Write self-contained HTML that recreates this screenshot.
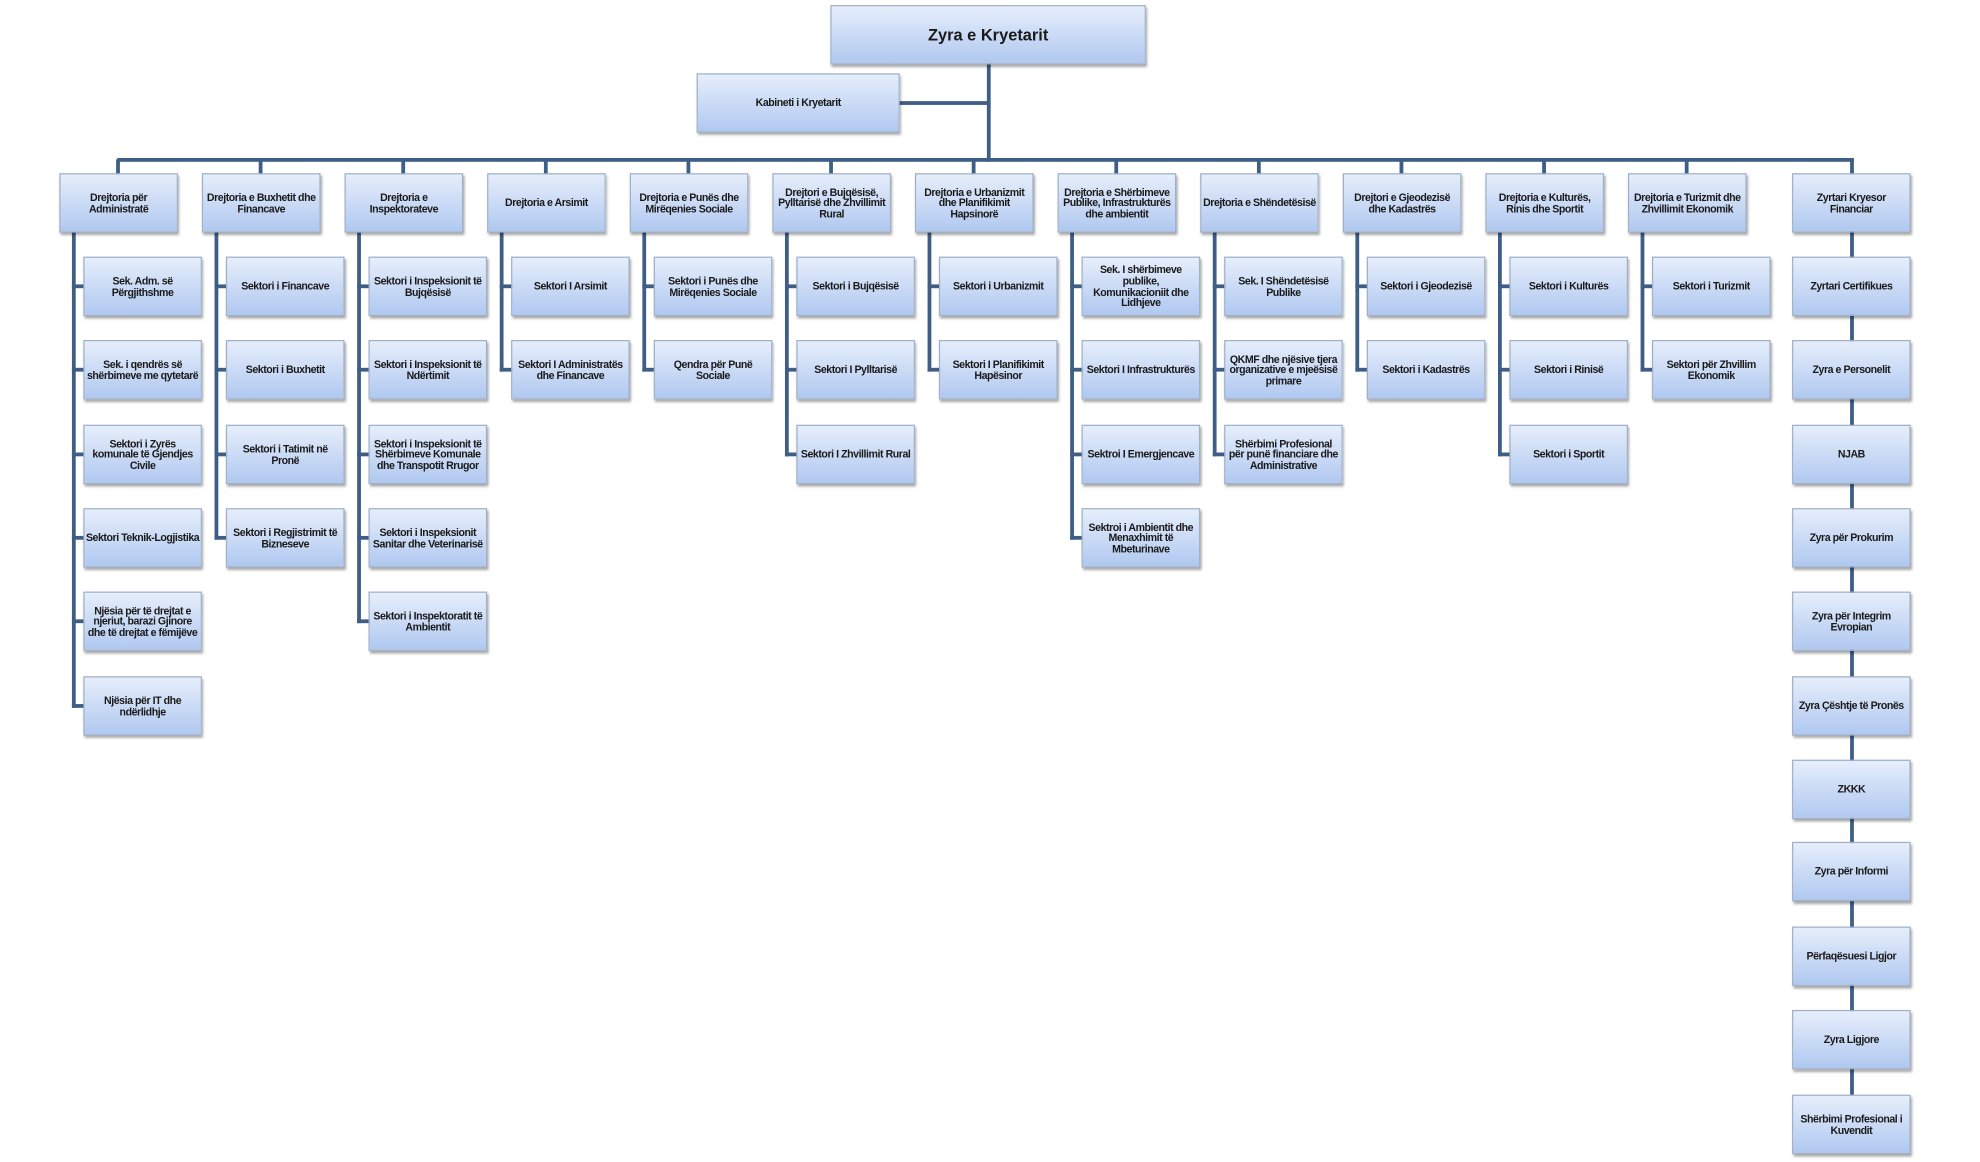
<!DOCTYPE html>
<html><head><meta charset="utf-8"><style>
html,body{margin:0;padding:0;background:#fff;width:1980px;height:1162px;overflow:hidden}
#c{position:absolute;left:0;top:0;width:1564px;height:918px;transform:scale(1.262,1.264);transform-origin:0 0}
.b{position:absolute;width:94px;height:47px;display:flex;align-items:center;justify-content:center;text-align:center;box-sizing:border-box;padding:0 1px;font-family:"Liberation Sans Narrow","Liberation Sans",sans-serif;font-weight:bold;font-size:8.4px;letter-spacing:-0.35px;line-height:8.6px;color:#1a1a1a;background:linear-gradient(#e6eefb,#b0c8f0);border:1px solid #9fb0ca;box-shadow:1px 2px 2px rgba(0,0,0,.35)}
.l{position:absolute;background:#3e5e86}
</style></head><body><div id="c">
<div class="l" style="left:782px;top:50px;width:3px;height:78px"></div>
<div class="l" style="left:712px;top:80px;width:72px;height:3px"></div>
<div class="l" style="left:93px;top:125px;width:1376px;height:3px"></div>
<div class="b" style="left:658px;top:4px;width:250px;height:47px;font-size:13px;line-height:14px;letter-spacing:0">Zyra e Kryetarit</div>
<div class="b" style="left:552px;top:58px;width:161px;height:47px">Kabineti i Kryetarit</div>

<div class="l" style="left:92px;top:126px;width:3px;height:12px"></div>
<div class="l" style="left:205px;top:126px;width:3px;height:12px"></div>
<div class="l" style="left:318px;top:126px;width:3px;height:12px"></div>
<div class="l" style="left:431px;top:126px;width:3px;height:12px"></div>
<div class="l" style="left:544px;top:126px;width:3px;height:12px"></div>
<div class="l" style="left:657px;top:126px;width:3px;height:12px"></div>
<div class="l" style="left:770px;top:126px;width:3px;height:12px"></div>
<div class="l" style="left:883px;top:126px;width:3px;height:12px"></div>
<div class="l" style="left:996px;top:126px;width:3px;height:12px"></div>
<div class="l" style="left:1109px;top:126px;width:3px;height:12px"></div>
<div class="l" style="left:1222px;top:126px;width:3px;height:12px"></div>
<div class="l" style="left:1335px;top:126px;width:3px;height:12px"></div>
<div class="l" style="left:1466px;top:126px;width:3px;height:740px"></div>

<div class="l" style="left:57px;top:184px;width:3px;height:376px"></div>
<div class="l" style="left:57px;top:225px;width:10px;height:3px"></div>
<div class="l" style="left:57px;top:291px;width:10px;height:3px"></div>
<div class="l" style="left:57px;top:358px;width:10px;height:3px"></div>
<div class="l" style="left:57px;top:424px;width:10px;height:3px"></div>
<div class="l" style="left:57px;top:490px;width:10px;height:3px"></div>
<div class="l" style="left:57px;top:557px;width:10px;height:3px"></div>
<div class="l" style="left:170px;top:184px;width:3px;height:243px"></div>
<div class="l" style="left:170px;top:225px;width:10px;height:3px"></div>
<div class="l" style="left:170px;top:291px;width:10px;height:3px"></div>
<div class="l" style="left:170px;top:358px;width:10px;height:3px"></div>
<div class="l" style="left:170px;top:424px;width:10px;height:3px"></div>
<div class="l" style="left:283px;top:184px;width:3px;height:309px"></div>
<div class="l" style="left:283px;top:225px;width:10px;height:3px"></div>
<div class="l" style="left:283px;top:291px;width:10px;height:3px"></div>
<div class="l" style="left:283px;top:358px;width:10px;height:3px"></div>
<div class="l" style="left:283px;top:424px;width:10px;height:3px"></div>
<div class="l" style="left:283px;top:490px;width:10px;height:3px"></div>
<div class="l" style="left:396px;top:184px;width:3px;height:110px"></div>
<div class="l" style="left:396px;top:225px;width:10px;height:3px"></div>
<div class="l" style="left:396px;top:291px;width:10px;height:3px"></div>
<div class="l" style="left:509px;top:184px;width:3px;height:110px"></div>
<div class="l" style="left:509px;top:225px;width:10px;height:3px"></div>
<div class="l" style="left:509px;top:291px;width:10px;height:3px"></div>
<div class="l" style="left:622px;top:184px;width:3px;height:177px"></div>
<div class="l" style="left:622px;top:225px;width:10px;height:3px"></div>
<div class="l" style="left:622px;top:291px;width:10px;height:3px"></div>
<div class="l" style="left:622px;top:358px;width:10px;height:3px"></div>
<div class="l" style="left:735px;top:184px;width:3px;height:110px"></div>
<div class="l" style="left:735px;top:225px;width:10px;height:3px"></div>
<div class="l" style="left:735px;top:291px;width:10px;height:3px"></div>
<div class="l" style="left:848px;top:184px;width:3px;height:243px"></div>
<div class="l" style="left:848px;top:225px;width:10px;height:3px"></div>
<div class="l" style="left:848px;top:291px;width:10px;height:3px"></div>
<div class="l" style="left:848px;top:358px;width:10px;height:3px"></div>
<div class="l" style="left:848px;top:424px;width:10px;height:3px"></div>
<div class="l" style="left:961px;top:184px;width:3px;height:177px"></div>
<div class="l" style="left:961px;top:225px;width:10px;height:3px"></div>
<div class="l" style="left:961px;top:291px;width:10px;height:3px"></div>
<div class="l" style="left:961px;top:358px;width:10px;height:3px"></div>
<div class="l" style="left:1074px;top:184px;width:3px;height:110px"></div>
<div class="l" style="left:1074px;top:225px;width:10px;height:3px"></div>
<div class="l" style="left:1074px;top:291px;width:10px;height:3px"></div>
<div class="l" style="left:1187px;top:184px;width:3px;height:177px"></div>
<div class="l" style="left:1187px;top:225px;width:10px;height:3px"></div>
<div class="l" style="left:1187px;top:291px;width:10px;height:3px"></div>
<div class="l" style="left:1187px;top:358px;width:10px;height:3px"></div>
<div class="l" style="left:1300px;top:184px;width:3px;height:110px"></div>
<div class="l" style="left:1300px;top:225px;width:10px;height:3px"></div>
<div class="l" style="left:1300px;top:291px;width:10px;height:3px"></div>

<div class="b" style="left:47px;top:137px">Drejtoria për Administratë</div>
<div class="b" style="left:160px;top:137px">Drejtoria e Buxhetit dhe Financave</div>
<div class="b" style="left:273px;top:137px">Drejtoria e Inspektorateve</div>
<div class="b" style="left:386px;top:137px">Drejtoria e Arsimit</div>
<div class="b" style="left:499px;top:137px">Drejtoria e Punës dhe Mirëqenies Sociale</div>
<div class="b" style="left:612px;top:137px">Drejtori e Bujqësisë, Pylltarisë dhe Zhvillimit Rural</div>
<div class="b" style="left:725px;top:137px">Drejtoria e Urbanizmit dhe Planifikimit Hapsinorë</div>
<div class="b" style="left:838px;top:137px">Drejtoria e Shërbimeve Publike, Infrastrukturës dhe ambientit</div>
<div class="b" style="left:951px;top:137px">Drejtoria e Shëndetësisë</div>
<div class="b" style="left:1064px;top:137px">Drejtori e Gjeodezisë dhe Kadastrës</div>
<div class="b" style="left:1177px;top:137px">Drejtoria e Kulturës, Rinis dhe Sportit</div>
<div class="b" style="left:1290px;top:137px">Drejtoria e Turizmit dhe Zhvillimit Ekonomik</div>

<div class="b" style="left:66px;top:203px">Sek. Adm. së Përgjithshme</div>
<div class="b" style="left:66px;top:269px">Sek. i qendrës së shërbimeve me qytetarë</div>
<div class="b" style="left:66px;top:336px">Sektori i Zyrës komunale të Gjendjes Civile</div>
<div class="b" style="left:66px;top:402px">Sektori Teknik-Logjistika</div>
<div class="b" style="left:66px;top:468px">Njësia për të drejtat e njeriut, barazi Gjinore dhe të drejtat e fëmijëve</div>
<div class="b" style="left:66px;top:535px">Njësia për IT dhe ndërlidhje</div>
<div class="b" style="left:179px;top:203px">Sektori i Financave</div>
<div class="b" style="left:179px;top:269px">Sektori i Buxhetit</div>
<div class="b" style="left:179px;top:336px">Sektori i Tatimit në Pronë</div>
<div class="b" style="left:179px;top:402px">Sektori i Regjistrimit të Bizneseve</div>
<div class="b" style="left:292px;top:203px">Sektori i Inspeksionit të Bujqësisë</div>
<div class="b" style="left:292px;top:269px">Sektori i Inspeksionit të Ndërtimit</div>
<div class="b" style="left:292px;top:336px">Sektori i Inspeksionit të Shërbimeve Komunale dhe Transpotit Rrugor</div>
<div class="b" style="left:292px;top:402px">Sektori i Inspeksionit Sanitar dhe Veterinarisë</div>
<div class="b" style="left:292px;top:468px">Sektori i Inspektoratit të Ambientit</div>
<div class="b" style="left:405px;top:203px">Sektori I Arsimit</div>
<div class="b" style="left:405px;top:269px">Sektori I Administratës dhe Financave</div>
<div class="b" style="left:518px;top:203px">Sektori i Punës dhe Mirëqenies Sociale</div>
<div class="b" style="left:518px;top:269px">Qendra për Punë Sociale</div>
<div class="b" style="left:631px;top:203px">Sektori i Bujqësisë</div>
<div class="b" style="left:631px;top:269px">Sektori I Pylltarisë</div>
<div class="b" style="left:631px;top:336px">Sektori I Zhvillimit Rural</div>
<div class="b" style="left:744px;top:203px">Sektori i Urbanizmit</div>
<div class="b" style="left:744px;top:269px">Sektori I Planifikimit Hapësinor</div>
<div class="b" style="left:857px;top:203px">Sek. I shërbimeve publike, Komunikacioniit dhe Lidhjeve</div>
<div class="b" style="left:857px;top:269px">Sektori I Infrastrukturës</div>
<div class="b" style="left:857px;top:336px">Sektroi I Emergjencave</div>
<div class="b" style="left:857px;top:402px">Sektroi i Ambientit dhe Menaxhimit të Mbeturinave</div>
<div class="b" style="left:970px;top:203px">Sek. I Shëndetësisë Publike</div>
<div class="b" style="left:970px;top:269px">QKMF dhe njësive tjera organizative e mjeësisë primare</div>
<div class="b" style="left:970px;top:336px">Shërbimi Profesional për punë financiare dhe Administrative</div>
<div class="b" style="left:1083px;top:203px">Sektori i Gjeodezisë</div>
<div class="b" style="left:1083px;top:269px">Sektori i Kadastrës</div>
<div class="b" style="left:1196px;top:203px">Sektori i Kulturës</div>
<div class="b" style="left:1196px;top:269px">Sektori i Rinisë</div>
<div class="b" style="left:1196px;top:336px">Sektori i Sportit</div>
<div class="b" style="left:1309px;top:203px">Sektori i Turizmit</div>
<div class="b" style="left:1309px;top:269px">Sektori për Zhvillim Ekonomik</div>

<div class="b" style="left:1420px;top:137px">Zyrtari Kryesor Financiar</div>
<div class="b" style="left:1420px;top:203px">Zyrtari Certifikues</div>
<div class="b" style="left:1420px;top:269px">Zyra e Personelit</div>
<div class="b" style="left:1420px;top:336px">NJAB</div>
<div class="b" style="left:1420px;top:402px">Zyra për Prokurim</div>
<div class="b" style="left:1420px;top:468px">Zyra për Integrim Evropian</div>
<div class="b" style="left:1420px;top:535px">Zyra Çështje të Pronës</div>
<div class="b" style="left:1420px;top:601px">ZKKK</div>
<div class="b" style="left:1420px;top:666px">Zyra për Informi</div>
<div class="b" style="left:1420px;top:733px">Përfaqësuesi Ligjor</div>
<div class="b" style="left:1420px;top:799px">Zyra Ligjore</div>
<div class="b" style="left:1420px;top:866px">Shërbimi Profesional i Kuvendit</div>
</div></body></html>
